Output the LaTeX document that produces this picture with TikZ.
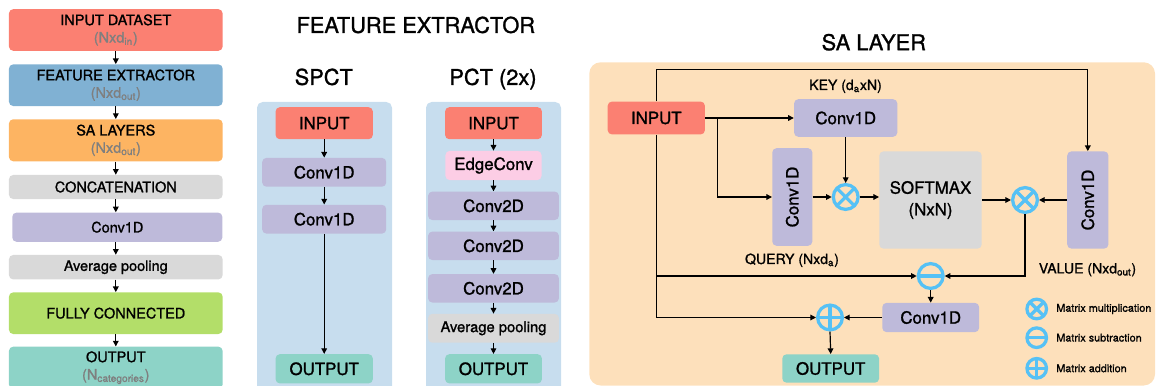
\documentclass[tikz,border=0pt]{standalone}
\usepackage{fontspec}
\setmainfont{TeX Gyre Heros}[UprightFeatures={FakeBold=1.2}]
\usetikzlibrary{arrows.meta, positioning, calc}

\definecolor{salmon}{HTML}{FB8072}
\definecolor{steel}{HTML}{80B1D3}
\definecolor{amber}{HTML}{FDB462}
\definecolor{lgray}{HTML}{D9D9D9}
\definecolor{lilac}{HTML}{BEBADA}
\definecolor{lime}{HTML}{B3DE69}
\definecolor{teal}{HTML}{8DD3C7}
\definecolor{pink}{HTML}{FCCDE5}
\definecolor{paneblue}{HTML}{C7DDEE}
\definecolor{paneorange}{HTML}{FDE0BB}
\definecolor{opblue}{HTML}{56C1F5}
\definecolor{dimgray}{HTML}{7F7F7F}

\tikzset{
  blk/.style={rounded corners=3pt, inner sep=0pt, align=center, text=black},
  lft/.style={blk, minimum width=5.34cm, font=\fontsize{10.3}{12.4}\selectfont},
  fx/.style={blk, font=\fontsize{12}{14.4}\selectfont},
  ttl/.style={anchor=base, font=\fontsize{15.5}{18}\selectfont},
  lbl/.style={anchor=base, font=\fontsize{10}{12}\selectfont},
  arr/.style={-{Triangle[length=4pt,width=4pt]}, line width=0.85pt},
  op/.style={circle, draw=opblue, line width=2.3pt, minimum size=0.62cm, inner sep=0pt},
  mul/.style={op, path picture={\draw[opblue, line width=2.3pt]
      (path picture bounding box.north west) -- (path picture bounding box.south east)
      (path picture bounding box.north east) -- (path picture bounding box.south west);}},
  minus/.style={op, path picture={\draw[opblue, line width=2.3pt]
      (path picture bounding box.west) -- (path picture bounding box.east);}},
  plus/.style={op, path picture={\draw[opblue, line width=2.3pt]
      (path picture bounding box.west) -- (path picture bounding box.east)
      (path picture bounding box.north) -- (path picture bounding box.south);}},
  legop/.style={minimum size=0.49cm},
  legtxt/.style={anchor=west, inner sep=0pt, font=\fontsize{7.7}{9}\selectfont}
}

\begin{document}
\begin{tikzpicture}[x=0.025cm, y=-0.025cm]
    \useasboundingbox (0,0) rectangle (1157,386);

    % Overall pipeline
    \node[lft, fill=salmon, minimum height=1.04cm] (ds) at (115.8,30) {INPUT DATASET\\{\color{dimgray}(Nxd\textsubscript{in})}};
    \node[lft, fill=steel, minimum height=1.04cm] (fe) at (115.8,85.2) {FEATURE EXTRACTOR\\{\color{dimgray}(Nxd\textsubscript{out})}};
    \node[lft, fill=amber, minimum height=1.05cm] (sal) at (115.8,140.3) {SA LAYERS\\{\color{dimgray}(Nxd\textsubscript{out})}};
    \node[lft, fill=lgray, minimum height=0.6cm] (cat) at (115.8,187) {CONCATENATION};
    \node[lft, fill=lilac, minimum width=5.25cm, minimum height=0.73cm] (cv) at (117.3,227.2) {Conv1D};
    \node[lft, fill=lgray, minimum height=0.61cm] (avg) at (115.8,267.2) {Average pooling};
    \node[lft, fill=lime, minimum height=1.04cm] (fc) at (115.8,313.2) {FULLY CONNECTED};
    \node[lft, fill=teal, minimum height=1.05cm] (out) at (115.8,367.7) {OUTPUT\\{\color{dimgray}(N\textsubscript{categories})}};

    \draw[arr] (ds) -- (fe);
    \draw[arr] (fe) -- (sal);
    \draw[arr] (sal) -- (cat);
    \draw[arr] (cat.south) -- (cat.south |- cv.north);
    \draw[arr] (cat.south |- cv.south) -- (avg.north);
    \draw[arr] (avg) -- (fc);
    \draw[arr] (fc) -- (out);

    % Feature extractor
    \node[ttl] (fxt) at (415.8,32.9) {FEATURE EXTRACTOR};
    \node[ttl] (spt) at (323.8,84.9) {SPCT};
    \node[ttl] (pct) at (493,84.9) {PCT (2x)};

    \fill[paneblue, rounded corners=4pt] (257,102) rectangle (392,400);
    \fill[paneblue, rounded corners=4pt] (426,102) rectangle (561,400);

    \node[fx, fill=salmon, minimum width=2.43cm, minimum height=0.8cm] (spin) at (324.2,123.2) {INPUT};
    \node[fx, fill=lilac, minimum width=3.1cm, minimum height=0.72cm] (spc1) at (324.2,172.3) {Conv1D};
    \node[fx, fill=lilac, minimum width=3.1cm, minimum height=0.72cm] (spc2) at (324.2,219.2) {Conv1D};
    \node[fx, fill=teal, minimum width=2.43cm, minimum height=0.73cm] (spout) at (324.2,368.8) {OUTPUT};
    \draw[arr] (spin) -- (spc1);
    \draw[arr] (spc1) -- (spc2);
    \draw[arr] (spc2) -- (spout);

    \node[fx, fill=salmon, minimum width=2.42cm, minimum height=0.8cm] (pin) at (493.5,123.2) {INPUT};
    \node[fx, fill=pink, minimum width=2.4cm, minimum height=0.73cm] (edge) at (493.5,165.5) {EdgeConv};
    \node[fx, fill=lilac, minimum width=3.27cm, minimum height=0.71cm] (pc1) at (493.5,205.8) {Conv2D};
    \node[fx, fill=lilac, minimum width=3.27cm, minimum height=0.71cm] (pc2) at (493.5,245.8) {Conv2D};
    \node[fx, fill=lilac, minimum width=3.27cm, minimum height=0.71cm] (pc3) at (493.5,288.3) {Conv2D};
    \node[fx, fill=lgray, minimum width=3.27cm, minimum height=0.72cm, font=\fontsize{10.5}{12.6}\selectfont] (pavg) at (493.5,328.3) {Average pooling};
    \node[fx, fill=teal, minimum width=2.42cm, minimum height=0.73cm] (pout) at (493.5,368.8) {OUTPUT};
    \draw[arr] (pin) -- (edge);
    \draw[arr] (edge) -- (pc1);
    \draw[arr] (pc1) -- (pc2);
    \draw[arr] (pc2) -- (pc3);
    \draw[arr] (pc3) -- (pavg);
    \draw[arr] (pavg) -- (pout);

    % SA layer
    \node[ttl] (sat) at (873.8,50.2) {SA LAYER};
    \fill[paneorange, rounded corners=8pt] (589.3,62.3) rectangle (1155,385.5);

    \node[fx, fill=salmon, minimum width=2.43cm, minimum height=0.82cm] (sin) at (656.3,118) {INPUT};
    \node[fx, fill=lilac, minimum width=2.58cm, minimum height=0.94cm] (key) at (845.7,118) {Conv1D};
    \node[fx, fill=lilac, minimum width=1.0cm, minimum height=2.44cm] (qry) at (792.3,197) {\rotatebox{90}{Conv1D}};
    \node[mul] (m1) at (845.7,197) {};
    \node[fx, fill=lgray, minimum width=2.56cm, minimum height=2.43cm] (sm) at (930.5,200) {SOFTMAX\\[1pt](NxN)};
    \node[mul] (m2) at (1025,200) {};
    \node[fx, fill=lilac, minimum width=1.03cm, minimum height=2.43cm] (val) at (1087.8,200) {\rotatebox{90}{Conv1D}};
    \node[minus] (sub) at (930.7,276) {};
    \node[fx, fill=lilac, minimum width=2.42cm, minimum height=0.73cm] (cvo) at (930.7,317.5) {Conv1D};
    \node[plus] (add) at (830,317.5) {};
    \node[fx, fill=teal, minimum width=2.42cm, minimum height=0.71cm] (sout) at (830.7,368.5) {OUTPUT};

    \node[lbl] (keyl) at (845.5,90) {KEY (d\textsubscript{a}xN)};
    \node[lbl] (qryl) at (792,264) {QUERY (Nxd\textsubscript{a})};
    \node[lbl] (vall) at (1087.5,273.4) {VALUE (Nxd\textsubscript{out})};

    \draw[arr] (sin.east) -- (key.west);
    \draw[arr] (sin.east) -- ++(12.3,0) |- (qry.west);
    \draw[arr] (sin.north) -- ++(0,-31.6) -| (val.north);
    \draw[arr] (key.south) -- (m1.north);
    \draw[arr] (qry.east) -- (m1.west);
    \draw[arr] (m1.east) -- (m1.east -| sm.west);
    \draw[arr] (sm.east) -- (m2.west);
    \draw[arr] (val.west) -- (m2.east);
    \draw[arr] (m2.south) |- (sub.east);
    \draw[arr] (sin.south |- sub.west) -- (sub.west);
    \draw[arr] (sin.south) |- (add.west);
    \draw[arr] (sub.south) -- (cvo.north);
    \draw[arr] (cvo.west) -- (add.east);
    \draw[arr] (add.south) -- (sout.north);

    % Legend
    \node[mul, legop] (lm) at (1036.7,309) {};
    \node[minus, legop] (ls) at (1036.7,337.7) {};
    \node[plus, legop] (la) at (1036.7,368.3) {};
    \node[legtxt] (lmt) at (1056,309) {Matrix multiplication};
    \node[legtxt] (lst) at (1056,337.7) {Matrix subtraction};
    \node[legtxt] (lat) at (1056,368.3) {Matrix addition};
\end{tikzpicture}
\end{document}
